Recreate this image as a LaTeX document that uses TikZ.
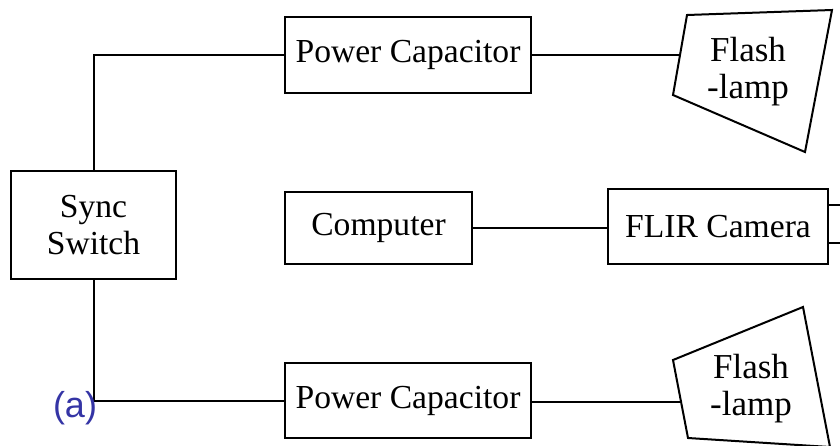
\documentclass[tikz,border=0pt]{standalone}
\usepackage{fontspec}
\setmainfont{Liberation Serif}
\newfontfamily\labelfont{Liberation Sans}
\usetikzlibrary{positioning}
\usepackage{xcolor}
\definecolor{tagblue}{RGB}{52,52,165}
\tikzset{
blockbox/.style={rectangle,draw=black,line width=2pt,inner sep=0pt,align=center,
  font=\fontsize{33.6}{37}\selectfont},
lampshape/.style={draw=black,line width=2pt,line join=miter},
lamptext/.style={inner sep=0pt,align=center,font=\fontsize{35}{37}\selectfont},
wire/.style={line width=2pt}
}

\begin{document}
\begin{tikzpicture}[x=1pt,y=-1pt]
\useasboundingbox (0,0) rectangle (840,445);
\node[blockbox,minimum width=165pt,minimum height=108pt] (sync) at (93.5,225) {Sync\\Switch};
\node[blockbox,minimum width=246pt,minimum height=76pt] (capA) at (408,55) {Power Capacitor};
\node[blockbox,minimum width=246pt,minimum height=75pt] (capB) at (408,400.5) {Power Capacitor};
\node[blockbox,minimum width=187pt,minimum height=72pt] (comp) at (378.5,228) {Computer};
\node[blockbox,minimum width=220pt,minimum height=75pt] (flir) at (718,226.5) {FLIR Camera};
% flash lamps
\draw[lampshape] (687,15) -- (832,10) -- (805,152) -- (673,95) -- cycle;
\node[lamptext] (lampA) at (748,72) {Flash\\-lamp};
\coordinate (lampAin) at (680.3,55);
\draw[lampshape] (673,360) -- (803,307) -- (830,447) -- (688,438) -- cycle;
\node[lamptext] (lampB) at (751,389) {Flash\\-lamp};
\coordinate (lampBin) at (681,402);
\coordinate (edgeA) at (840,205);
\coordinate (edgeB) at (840,243);
\draw[wire] (sync.north) |- (capA.west);
\draw[wire] (sync.south) |- (capB.west);
\draw[wire] (capA.east) -- (lampAin);
\draw[wire] (capB.east |- lampBin) -- (lampBin);
\draw[wire] (comp.east) -- (comp.east -| flir.west);
\draw[wire] (flir.east |- edgeA) -- (edgeA);
\draw[wire] (flir.east |- edgeB) -- (edgeB);
\node[font=\labelfont\fontsize{36}{40}\selectfont,text=tagblue,inner sep=0pt] (tag) at (75,408) {(a)};
\end{tikzpicture}
\end{document}
